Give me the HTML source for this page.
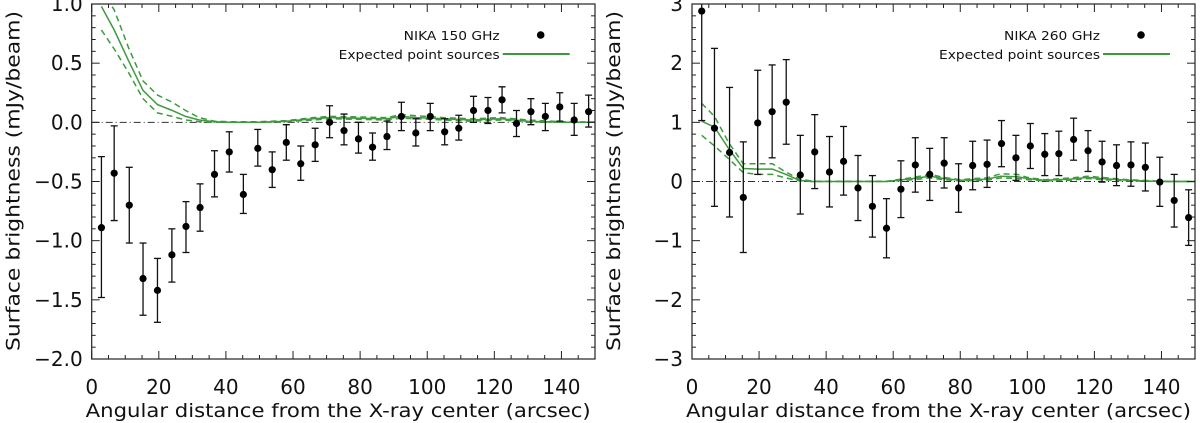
<!DOCTYPE html>
<html><head><meta charset="utf-8">
<style>
html,body{margin:0;padding:0;background:#fff;}
svg{display:block;font-family:"DejaVu Sans","Liberation Sans",sans-serif;}
</style></head>
<body>
<svg id="chart" width="1200" height="423" viewBox="0 0 1200 423" xmlns="http://www.w3.org/2000/svg"></svg>
<script>
// shared x positions (arcsec)
const xs = [2.9,6.7,11.2,15.3,19.6,23.9,28.1,32.3,36.6,41.0,45.2,49.5,53.8,58.0,62.3,66.6,70.9,75.2,79.5,83.7,88.0,92.3,96.6,100.9,105.2,109.4,113.8,118.1,122.3,126.6,130.9,135.2,139.5,143.8,148.1];
// left 150 GHz
const v150 = [-0.89,-0.43,-0.70,-1.32,-1.42,-1.12,-0.88,-0.72,-0.44,-0.25,-0.61,-0.22,-0.40,-0.17,-0.35,-0.19,0.00,-0.07,-0.14,-0.21,-0.12,0.05,-0.09,0.05,-0.08,-0.05,0.10,0.10,0.19,-0.01,0.09,0.05,0.13,0.02,0.09];
const lo150 = [-1.48,-0.83,-1.02,-1.63,-1.69,-1.35,-1.10,-0.92,-0.63,-0.42,-0.77,-0.37,-0.55,-0.32,-0.49,-0.33,-0.13,-0.19,-0.26,-0.32,-0.23,-0.07,-0.20,-0.07,-0.19,-0.15,0.00,-0.01,0.08,-0.12,-0.02,-0.07,0.01,-0.11,-0.04];
const hi150 = [-0.29,-0.03,-0.38,-1.02,-1.15,-0.90,-0.67,-0.52,-0.24,-0.08,-0.44,-0.06,-0.25,-0.02,-0.20,-0.05,0.14,0.07,0.00,-0.09,0.01,0.17,0.03,0.16,0.03,0.06,0.22,0.21,0.30,0.10,0.20,0.16,0.25,0.16,0.23];
const mx150 = [2.9,6.7,11,15.3,19.6,24,28,32,36.6,41,50,58,66,71,80,88,92,97,105,113,122,130,140,150];
const m150 = [0.98,0.78,0.52,0.27,0.15,0.10,0.05,0.02,0.005,0,0,0.01,0.03,0.04,0.035,0.03,0.05,0.04,0.03,0.02,0.03,0.01,0,0];
const mu150 = [1.12,0.95,0.63,0.35,0.23,0.17,0.10,0.04,0.01,0.005,0.005,0.015,0.04,0.05,0.045,0.04,0.065,0.055,0.04,0.03,0.04,0.02,0.005,0.003];
const ml150 = [0.78,0.62,0.42,0.20,0.08,0.05,0.02,0.005,0,0,0,0.005,0.02,0.03,0.025,0.02,0.035,0.03,0.02,0.01,0.02,0.005,0,0];
// right 260 GHz
const v260 = [2.88,0.90,0.49,-0.27,0.99,1.18,1.34,0.11,0.50,0.16,0.34,-0.11,-0.42,-0.79,-0.13,0.28,0.12,0.31,-0.11,0.27,0.29,0.64,0.40,0.60,0.46,0.47,0.71,0.52,0.33,0.27,0.28,0.24,-0.01,-0.32,-0.61];
const lo260 = [1.03,-0.42,-0.60,-1.20,0.12,0.40,0.63,-0.55,-0.12,-0.43,-0.23,-0.66,-0.94,-1.29,-0.61,-0.18,-0.32,-0.11,-0.52,-0.14,-0.10,0.25,0.02,0.22,0.10,0.10,0.36,0.17,-0.01,-0.07,-0.08,-0.16,-0.42,-0.77,-1.08];
const hi260 = [3.2,2.25,1.59,0.67,1.88,1.97,2.06,0.78,1.13,0.76,0.93,0.44,0.10,-0.29,0.35,0.74,0.56,0.74,0.30,0.68,0.70,1.03,0.78,0.98,0.81,0.85,1.07,0.86,0.68,0.62,0.67,0.65,0.41,0.12,-0.14];
const mx260 = [2.9,6.7,11,15.3,19.6,24,28,32,36,58,66,71,75,80,84,88,92,97,100,105,113,118,122,130,140,150];
const m260 = [1.02,0.92,0.55,0.22,0.21,0.21,0.12,0.02,0,0,0.05,0.09,0.05,0.02,0.03,0.04,0.09,0.08,0.05,0.02,0.04,0.07,0.05,0.02,0,0];
const mu260 = [1.32,1.10,0.65,0.30,0.30,0.30,0.16,0.04,0.005,0.005,0.07,0.12,0.07,0.03,0.05,0.06,0.13,0.12,0.07,0.03,0.06,0.09,0.07,0.03,0.005,0];
const ml260 = [0.78,0.60,0.38,0.15,0.12,0.12,0.06,0.01,0,0,0.03,0.06,0.03,0.01,0.015,0.02,0.06,0.05,0.03,0.01,0.02,0.05,0.03,0.01,0,0];
const xTicks = [0,20,40,60,80,100,120,140];
const yTicks150 = [1.0,0.5,0.0,-0.5,-1.0,-1.5,-2.0];
const yTickLabels150 = ["1.0","0.5","0.0","\u22120.5","\u22121.0","\u22121.5","\u22122.0"];
const yTicks260 = [3,2,1,0,-1,-2,-3];
const yTickLabels260 = ["3","2","1","0","\u22121","\u22122","\u22123"];

const NS="http://www.w3.org/2000/svg";
const svg=document.getElementById('chart');
function mk(tag,attrs,parent){const e=document.createElementNS(NS,tag);for(const k in attrs)e.setAttribute(k,attrs[k]);(parent||svg).appendChild(e);return e;}

function panel(o){
  const g=mk('g',{});
  
  
  const L=o.left,R=o.right,T=4,B=359;
  const sx=x=>L+(x-0)/(150-0)*(R-L);
  const sy=y=>T+(o.ymax-y)/(o.ymax-o.ymin)*(B-T);
  const clip='clip-'+o.name;
  const cp=mk('clipPath',{id:clip},g);mk('rect',{x:L,y:T,width:R-L,height:B-T},cp);
  const z=mk('line',{x1:L,x2:R,y1:sy(0),y2:sy(0),stroke:'#333','stroke-width':1,'stroke-dasharray':'7,3,1,3'},g);
  
  
  const line=(ys,dash,nm)=>{let d='';o.mx.forEach((x,i)=>{d+=(i?'L':'M')+sx(x).toFixed(1)+','+sy(ys[i]).toFixed(1);});
    const p=mk('path',{d:d,fill:'none',stroke:'#3f9a3f','stroke-width':1.5,'clip-path':'url(#'+clip+')'},g);
    if(dash)p.setAttribute('stroke-dasharray','6,4');
    
    };
  line(o.mu,true,'model-upper');line(o.ml,true,'model-lower');line(o.m,false,'model-line');
  xs.forEach((x,i)=>{
    const px=sx(x);
    const eg=mk('g',{'clip-path':'url(#'+clip+')'},g);
    
    
    mk('line',{x1:px,x2:px,y1:sy(o.hi[i]),y2:sy(o.lo[i]),stroke:'#111','stroke-width':1.3},eg);
    mk('line',{x1:px-3.5,x2:px+3.5,y1:sy(o.hi[i]),y2:sy(o.hi[i]),stroke:'#111','stroke-width':1.3},eg);
    mk('line',{x1:px-3.5,x2:px+3.5,y1:sy(o.lo[i]),y2:sy(o.lo[i]),stroke:'#111','stroke-width':1.3},eg);
    mk('circle',{cx:px,cy:sy(o.v[i]),r:3.6,fill:'#000'},eg);
  });
  const fr=mk('rect',{x:L,y:T,width:R-L,height:B-T,fill:'none',stroke:'#222','stroke-width':1.2},g);
  
  
  for(let x=0;x<=150;x+=5){const maj=x%20===0;const len=maj?8:4;const px=sx(x);
    mk('line',{x1:px,x2:px,y1:B,y2:B-len,stroke:'#222'},g);mk('line',{x1:px,x2:px,y1:T,y2:T+len,stroke:'#222'},g);}
  xTicks.forEach(t=>{const tx=mk('text',{x:sx(t),y:394,'text-anchor':'middle','font-size':20,fill:'#111'},g);tx.textContent=t;
    
    });
  const n=Math.round((o.ymax-o.ymin)/o.minor);
  for(let i=0;i<=n;i++){const y=o.ymin+i*o.minor;const maj=i%o.per===0;const len=maj?8:4;const py=sy(y);
    mk('line',{x1:L,x2:L+len,y1:py,y2:py,stroke:'#222'},g);mk('line',{x1:R,x2:R-len,y1:py,y2:py,stroke:'#222'},g);}
  o.yt.forEach((t,i)=>{const ty=mk('text',{x:L-9,y:sy(t)+7,'text-anchor':'end','font-size':20,fill:'#111'},g);ty.textContent=o.ytl[i];
    
    });
  const xt=mk('text',{x:L-6,y:417,'font-size':19,fill:'#111',textLength:505,lengthAdjust:'spacingAndGlyphs'},g);xt.textContent='Angular distance from the X-ray center (arcsec)';
  
  
  const yt=mk('text',{x:0,y:0,'text-anchor':'middle','font-size':19,fill:'#111',textLength:340,lengthAdjust:'spacingAndGlyphs',transform:'translate('+(L-72)+','+181+') rotate(-90)'},g);yt.textContent='Surface brightness  (mJy/beam)';
  
  
  const lg=mk('g',{},g);
  
  
  const t1=mk('text',{x:L+312,y:40,'font-size':12,fill:'#111',textLength:96,lengthAdjust:'spacingAndGlyphs'},lg);t1.textContent=o.label;
  mk('circle',{cx:L+449,cy:35,r:3.8,fill:'#000'},lg);
  const t2=mk('text',{x:L+247,y:59,'font-size':12,fill:'#111',textLength:161,lengthAdjust:'spacingAndGlyphs'},lg);t2.textContent='Expected point sources';
  mk('line',{x1:L+411,x2:L+478,y1:54,y2:54,stroke:'#3f9a3f','stroke-width':2},lg);
}
panel({name:'panel-150ghz',left:91.7,right:595,ymin:-2,ymax:1,minor:0.1,per:5,yt:yTicks150,ytl:yTickLabels150,v:v150,lo:lo150,hi:hi150,mx:mx150,m:m150,mu:mu150,ml:ml150,label:'NIKA 150 GHz'});
panel({name:'panel-260ghz',left:692,right:1195,ymin:-3,ymax:3,minor:0.2,per:5,yt:yTicks260,ytl:yTickLabels260,v:v260,lo:lo260,hi:hi260,mx:mx260,m:m260,mu:mu260,ml:ml260,label:'NIKA 260 GHz'});
</script>
</body></html>
